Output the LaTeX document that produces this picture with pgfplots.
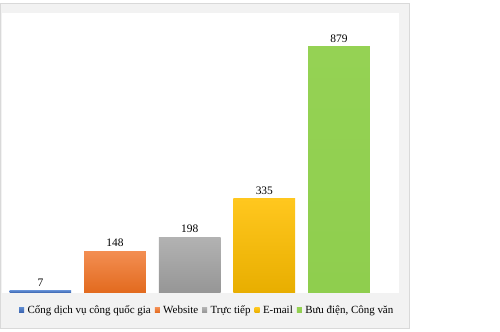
\documentclass[border=0pt]{standalone}
\usepackage{pgfplots}
\pgfplotsset{compat=1.18}
\usepackage{fontspec}
\setmainfont{Liberation Serif}
\definecolor{frame}{HTML}{F2F2F2}
\definecolor{frameline}{HTML}{D9D9D9}
\begin{document}
\begin{tikzpicture}[x=1pt,y=1pt]
\path (0,0) rectangle (500,333);
\fill[frame,draw=frameline,line width=0.6pt] (-2,3) rectangle (409,330);
\fill[white] (0,39) rectangle (399,320);
\begin{axis}[
  at={(0pt,39pt)}, anchor=south west,
  scale only axis, width=399pt, height=281pt,
  xmin=-0.51, xmax=4.81, ymin=0, ymax=1000,
  axis lines=none, ticks=none,
  /pgf/number format/assume math mode=true,
  ybar, bar width=62pt, bar shift=0pt,
  nodes near coords,
  every node near coord/.append style={font=\fontsize{11.5}{13}\selectfont, black, yshift=1pt},
  legend columns=5,
  legend style={at={(axis description cs:0.516,-0.062)}, anchor=center, draw=none, fill=none,
    font=\fontsize{11}{13}\selectfont, /tikz/every even column/.append style={column sep=2pt},
    /tikz/every odd column/.append style={column sep=1.5pt}},
  legend image code/.code={\fill[#1] (0pt,-2.5pt) rectangle (5pt,2.5pt);},
]
\addplot[draw=none, shade, top color={rgb,255:red,91;green,135;blue,206}, bottom color={rgb,255:red,58;green,100;blue,176}] coordinates {(0,7)};
\addlegendentry{Cổng dịch vụ công quốc gia}
\addplot[draw=none, shade, top color={rgb,255:red,243;green,142;blue,82}, bottom color={rgb,255:red,226;green,106;blue,30}] coordinates {(1,148)};
\addlegendentry{Website}
\addplot[draw=none, shade, top color={rgb,255:red,178;green,178;blue,178}, bottom color={rgb,255:red,150;green,150;blue,150}] coordinates {(2,198)};
\addlegendentry{Trực tiếp}
\addplot[draw=none, shade, top color={rgb,255:red,255;green,199;blue,30}, bottom color={rgb,255:red,232;green,174;blue,0}] coordinates {(3,335)};
\addlegendentry{E-mail}
\addplot[draw=none, shade, top color={rgb,255:red,149;green,210;blue,84}, bottom color={rgb,255:red,143;green,206;blue,78}] coordinates {(4,879)};
\addlegendentry{Bưu điện, Công văn}
\end{axis}
\end{tikzpicture}
\end{document}
